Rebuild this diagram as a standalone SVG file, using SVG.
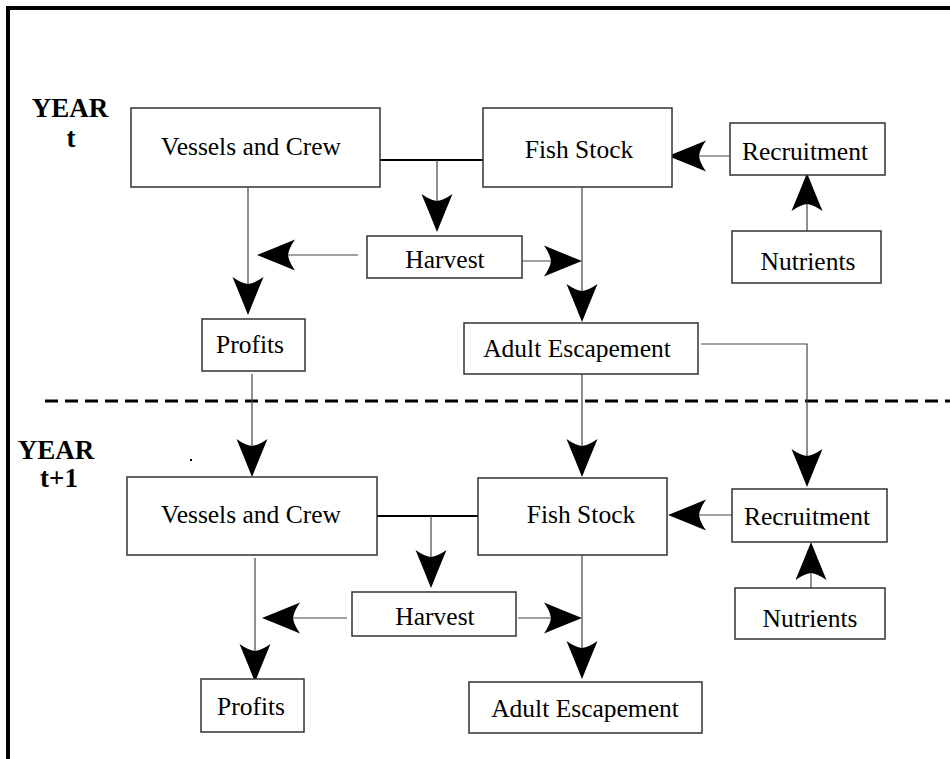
<svg xmlns="http://www.w3.org/2000/svg" xmlns:xlink="http://www.w3.org/1999/xlink" width="950" height="759" viewBox="0 0 950 759">
<style>
.box{fill:#fff;stroke:#333;stroke-width:1.5}
.lbl{font-family:"Liberation Serif","Times New Roman",serif;font-size:25.5px;fill:#000;text-anchor:middle}
.yr{font-family:"Liberation Serif","Times New Roman",serif;font-size:27px;font-weight:bold;fill:#000;text-anchor:middle}
.ln{fill:none;stroke:#444;stroke-width:1.2}
.lnk{fill:none;stroke:#000;stroke-width:2}
</style>
<defs>
<path id="ah" d="M0,0 Q-20,-8 -38,-15.5 Q-32,-7 -31,0 Q-32,7 -38,15.5 Q-20,8 0,0 Z" fill="#000"/>
</defs>
<rect width="950" height="759" fill="#fff"/>
<g id="frame">
<line x1="6" y1="8" x2="950" y2="8" stroke="#000" stroke-width="4"/>
<line x1="8" y1="6" x2="8" y2="759" stroke="#000" stroke-width="4"/>
<line x1="45" y1="401" x2="950" y2="401" stroke="#000" stroke-width="3" stroke-dasharray="13 7"/>
<rect x="190" y="459" width="2" height="2" fill="#000"/>
</g>
<g id="labels">
<text class="yr" x="70" y="117">YEAR</text>
<text class="yr" x="71" y="147">t</text>
<text class="yr" x="56" y="459">YEAR</text>
<text class="yr" x="59" y="487">t+1</text>
</g>
<g id="connectors">
<!-- year t -->
<line class="lnk" x1="380" y1="160" x2="483" y2="160"/>
<line class="ln" x1="437" y1="160" x2="437" y2="220"/>
<use xlink:href="#ah" transform="translate(437,232) rotate(90)"/>
<line class="ln" x1="358" y1="255" x2="270" y2="255"/>
<use xlink:href="#ah" transform="translate(257,255) rotate(180)"/>
<line class="ln" x1="248" y1="187" x2="248" y2="300"/>
<use xlink:href="#ah" transform="translate(248,315) rotate(90)"/>
<line class="ln" x1="522" y1="261" x2="570" y2="261"/>
<use xlink:href="#ah" transform="translate(582,261)"/>
<line class="ln" x1="582" y1="187" x2="582" y2="310"/>
<use xlink:href="#ah" transform="translate(582,322) rotate(90)"/>
<line class="ln" x1="730" y1="156" x2="680" y2="156"/>
<use xlink:href="#ah" transform="translate(668,156) rotate(180)"/>
<line class="ln" x1="807" y1="231" x2="807" y2="185"/>
<use xlink:href="#ah" transform="translate(807,173) rotate(-90)"/>
<polyline class="ln" points="701,344 807,344 807,475"/>
<use xlink:href="#ah" transform="translate(807,487) rotate(90)"/>
<line class="ln" x1="252" y1="374" x2="252" y2="465"/>
<use xlink:href="#ah" transform="translate(252,477) rotate(90)"/>
<line class="ln" x1="582" y1="374" x2="582" y2="465"/>
<use xlink:href="#ah" transform="translate(582,477) rotate(90)"/>
<!-- year t+1 -->
<line class="lnk" x1="372" y1="516" x2="478" y2="516"/>
<line class="ln" x1="431" y1="516" x2="431" y2="576"/>
<use xlink:href="#ah" transform="translate(431,588) rotate(90)"/>
<line class="ln" x1="347" y1="618" x2="275" y2="618"/>
<use xlink:href="#ah" transform="translate(262,618) rotate(180)"/>
<line class="ln" x1="255" y1="558" x2="255" y2="670"/>
<use xlink:href="#ah" transform="translate(255,682) rotate(90)"/>
<line class="ln" x1="518" y1="618" x2="570" y2="618"/>
<use xlink:href="#ah" transform="translate(582,618)"/>
<line class="ln" x1="582" y1="555" x2="582" y2="667"/>
<use xlink:href="#ah" transform="translate(582,679) rotate(90)"/>
<line class="ln" x1="732" y1="515" x2="680" y2="515"/>
<use xlink:href="#ah" transform="translate(668,515) rotate(180)"/>
<line class="ln" x1="811" y1="588" x2="811" y2="554"/>
<use xlink:href="#ah" transform="translate(811,542) rotate(-90)"/>
</g>
<g id="vessels-t"><rect class="box" x="131" y="108" width="249" height="79"/><text class="lbl" x="251" y="155">Vessels and Crew</text></g>
<g id="fishstock-t"><rect class="box" x="483" y="108" width="189" height="79"/><text class="lbl" x="579" y="158">Fish Stock</text></g>
<g id="recruitment-t"><rect class="box" x="730" y="123" width="155" height="52"/><text class="lbl" x="805" y="160">Recruitment</text></g>
<g id="nutrients-t"><rect class="box" x="732" y="231" width="149" height="52"/><text class="lbl" x="808" y="270">Nutrients</text></g>
<g id="harvest-t"><rect class="box" x="367" y="236" width="155" height="42"/><text class="lbl" x="445" y="268">Harvest</text></g>
<g id="profits-t"><rect class="box" x="202" y="319" width="103" height="52"/><text class="lbl" x="250" y="353">Profits</text></g>
<g id="escapement-t"><rect class="box" x="464" y="323" width="234" height="51"/><text class="lbl" x="577" y="357">Adult Escapement</text></g>
<g id="vessels-t1"><rect class="box" x="127" y="477" width="250" height="78"/><text class="lbl" x="251" y="523">Vessels and Crew</text></g>
<g id="fishstock-t1"><rect class="box" x="478" y="478" width="189" height="77"/><text class="lbl" x="581" y="523">Fish Stock</text></g>
<g id="recruitment-t1"><rect class="box" x="732" y="489" width="155" height="53"/><text class="lbl" x="807" y="525">Recruitment</text></g>
<g id="nutrients-t1"><rect class="box" x="735" y="588" width="150" height="51"/><text class="lbl" x="810" y="627">Nutrients</text></g>
<g id="harvest-t1"><rect class="box" x="352" y="592" width="164" height="44"/><text class="lbl" x="435" y="625">Harvest</text></g>
<g id="profits-t1"><rect class="box" x="201" y="679" width="103" height="53"/><text class="lbl" x="251" y="715">Profits</text></g>
<g id="escapement-t1"><rect class="box" x="469" y="682" width="233" height="51"/><text class="lbl" x="585" y="717">Adult Escapement</text></g>
</svg>
